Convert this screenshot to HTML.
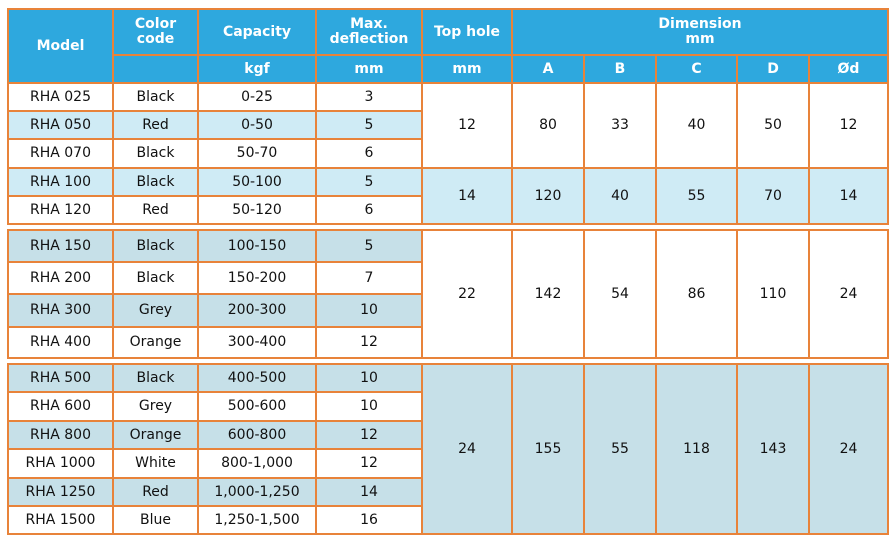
<!DOCTYPE html>
<html><head><meta charset="utf-8"><style>
body{margin:0;width:896px;height:540px;background:#fff;position:relative;overflow:hidden;font-family:"DejaVu Sans","Liberation Sans",sans-serif;font-size:14px;color:#111}
.c{position:absolute;box-sizing:border-box;border:2px solid #E8833A;display:flex;align-items:center;justify-content:center;text-align:center;line-height:15px}
.h{background:#2EA8DE;color:#fff;font-weight:bold;font-size:14px}
.l{background:#CFEBF5}.g{background:#C6E0E8}
</style></head><body>
<!-- header -->
<div class="c h" style="left:7px;top:8px;width:107px;height:76px">Model</div>
<div class="c h" style="left:112px;top:8px;width:87px;height:48px">Color<br>code</div>
<div class="c h" style="left:112px;top:54px;width:87px;height:30px"></div>
<div class="c h" style="left:197px;top:8px;width:120px;height:48px">Capacity</div>
<div class="c h" style="left:197px;top:54px;width:120px;height:30px">kgf</div>
<div class="c h" style="left:315px;top:8px;width:108px;height:48px">Max.<br>deflection</div>
<div class="c h" style="left:315px;top:54px;width:108px;height:30px">mm</div>
<div class="c h" style="left:421px;top:8px;width:92px;height:48px">Top hole</div>
<div class="c h" style="left:421px;top:54px;width:92px;height:30px">mm</div>
<div class="c h" style="left:511px;top:8px;width:378px;height:48px">Dimension<br>mm</div>
<div class="c h" style="left:511px;top:54px;width:74px;height:30px">A</div>
<div class="c h" style="left:583px;top:54px;width:74px;height:30px">B</div>
<div class="c h" style="left:655px;top:54px;width:83px;height:30px">C</div>
<div class="c h" style="left:736px;top:54px;width:74px;height:30px">D</div>
<div class="c h" style="left:808px;top:54px;width:81px;height:30px">Ød</div>

<!-- group 1 -->
<div class="c" style="left:7px;top:82px;width:107px;height:30px">RHA 025</div>
<div class="c" style="left:112px;top:82px;width:87px;height:30px">Black</div>
<div class="c" style="left:197px;top:82px;width:120px;height:30px">0-25</div>
<div class="c" style="left:315px;top:82px;width:108px;height:30px">3</div>
<div class="c l" style="left:7px;top:110px;width:107px;height:30px">RHA 050</div>
<div class="c l" style="left:112px;top:110px;width:87px;height:30px">Red</div>
<div class="c l" style="left:197px;top:110px;width:120px;height:30px">0-50</div>
<div class="c l" style="left:315px;top:110px;width:108px;height:30px">5</div>
<div class="c" style="left:7px;top:138px;width:107px;height:31px">RHA 070</div>
<div class="c" style="left:112px;top:138px;width:87px;height:31px">Black</div>
<div class="c" style="left:197px;top:138px;width:120px;height:31px">50-70</div>
<div class="c" style="left:315px;top:138px;width:108px;height:31px">6</div>
<div class="c l" style="left:7px;top:167px;width:107px;height:30px">RHA 100</div>
<div class="c l" style="left:112px;top:167px;width:87px;height:30px">Black</div>
<div class="c l" style="left:197px;top:167px;width:120px;height:30px">50-100</div>
<div class="c l" style="left:315px;top:167px;width:108px;height:30px">5</div>
<div class="c" style="left:7px;top:195px;width:107px;height:30px">RHA 120</div>
<div class="c" style="left:112px;top:195px;width:87px;height:30px">Red</div>
<div class="c" style="left:197px;top:195px;width:120px;height:30px">50-120</div>
<div class="c" style="left:315px;top:195px;width:108px;height:30px">6</div>
<div class="c" style="left:421px;top:82px;width:92px;height:87px">12</div>
<div class="c" style="left:511px;top:82px;width:74px;height:87px">80</div>
<div class="c" style="left:583px;top:82px;width:74px;height:87px">33</div>
<div class="c" style="left:655px;top:82px;width:83px;height:87px">40</div>
<div class="c" style="left:736px;top:82px;width:74px;height:87px">50</div>
<div class="c" style="left:808px;top:82px;width:81px;height:87px">12</div>
<div class="c l" style="left:421px;top:167px;width:92px;height:58px">14</div>
<div class="c l" style="left:511px;top:167px;width:74px;height:58px">120</div>
<div class="c l" style="left:583px;top:167px;width:74px;height:58px">40</div>
<div class="c l" style="left:655px;top:167px;width:83px;height:58px">55</div>
<div class="c l" style="left:736px;top:167px;width:74px;height:58px">70</div>
<div class="c l" style="left:808px;top:167px;width:81px;height:58px">14</div>

<!-- group 2 -->
<div class="c g" style="left:7px;top:229px;width:107px;height:34px">RHA 150</div>
<div class="c g" style="left:112px;top:229px;width:87px;height:34px">Black</div>
<div class="c g" style="left:197px;top:229px;width:120px;height:34px">100-150</div>
<div class="c g" style="left:315px;top:229px;width:108px;height:34px">5</div>
<div class="c" style="left:7px;top:261px;width:107px;height:34px">RHA 200</div>
<div class="c" style="left:112px;top:261px;width:87px;height:34px">Black</div>
<div class="c" style="left:197px;top:261px;width:120px;height:34px">150-200</div>
<div class="c" style="left:315px;top:261px;width:108px;height:34px">7</div>
<div class="c g" style="left:7px;top:293px;width:107px;height:35px">RHA 300</div>
<div class="c g" style="left:112px;top:293px;width:87px;height:35px">Grey</div>
<div class="c g" style="left:197px;top:293px;width:120px;height:35px">200-300</div>
<div class="c g" style="left:315px;top:293px;width:108px;height:35px">10</div>
<div class="c" style="left:7px;top:326px;width:107px;height:33px">RHA 400</div>
<div class="c" style="left:112px;top:326px;width:87px;height:33px">Orange</div>
<div class="c" style="left:197px;top:326px;width:120px;height:33px">300-400</div>
<div class="c" style="left:315px;top:326px;width:108px;height:33px">12</div>
<div class="c" style="left:421px;top:229px;width:92px;height:130px">22</div>
<div class="c" style="left:511px;top:229px;width:74px;height:130px">142</div>
<div class="c" style="left:583px;top:229px;width:74px;height:130px">54</div>
<div class="c" style="left:655px;top:229px;width:83px;height:130px">86</div>
<div class="c" style="left:736px;top:229px;width:74px;height:130px">110</div>
<div class="c" style="left:808px;top:229px;width:81px;height:130px">24</div>

<!-- group 3 -->
<div class="c g" style="left:7px;top:363px;width:107px;height:30px">RHA 500</div>
<div class="c g" style="left:112px;top:363px;width:87px;height:30px">Black</div>
<div class="c g" style="left:197px;top:363px;width:120px;height:30px">400-500</div>
<div class="c g" style="left:315px;top:363px;width:108px;height:30px">10</div>
<div class="c" style="left:7px;top:391px;width:107px;height:31px">RHA 600</div>
<div class="c" style="left:112px;top:391px;width:87px;height:31px">Grey</div>
<div class="c" style="left:197px;top:391px;width:120px;height:31px">500-600</div>
<div class="c" style="left:315px;top:391px;width:108px;height:31px">10</div>
<div class="c g" style="left:7px;top:420px;width:107px;height:30px">RHA 800</div>
<div class="c g" style="left:112px;top:420px;width:87px;height:30px">Orange</div>
<div class="c g" style="left:197px;top:420px;width:120px;height:30px">600-800</div>
<div class="c g" style="left:315px;top:420px;width:108px;height:30px">12</div>
<div class="c" style="left:7px;top:448px;width:107px;height:31px">RHA 1000</div>
<div class="c" style="left:112px;top:448px;width:87px;height:31px">White</div>
<div class="c" style="left:197px;top:448px;width:120px;height:31px">800-1,000</div>
<div class="c" style="left:315px;top:448px;width:108px;height:31px">12</div>
<div class="c g" style="left:7px;top:477px;width:107px;height:30px">RHA 1250</div>
<div class="c g" style="left:112px;top:477px;width:87px;height:30px">Red</div>
<div class="c g" style="left:197px;top:477px;width:120px;height:30px">1,000-1,250</div>
<div class="c g" style="left:315px;top:477px;width:108px;height:30px">14</div>
<div class="c" style="left:7px;top:505px;width:107px;height:30px">RHA 1500</div>
<div class="c" style="left:112px;top:505px;width:87px;height:30px">Blue</div>
<div class="c" style="left:197px;top:505px;width:120px;height:30px">1,250-1,500</div>
<div class="c" style="left:315px;top:505px;width:108px;height:30px">16</div>
<div class="c g" style="left:421px;top:363px;width:92px;height:172px">24</div>
<div class="c g" style="left:511px;top:363px;width:74px;height:172px">155</div>
<div class="c g" style="left:583px;top:363px;width:74px;height:172px">55</div>
<div class="c g" style="left:655px;top:363px;width:83px;height:172px">118</div>
<div class="c g" style="left:736px;top:363px;width:74px;height:172px">143</div>
<div class="c g" style="left:808px;top:363px;width:81px;height:172px">24</div>
</body></html>
